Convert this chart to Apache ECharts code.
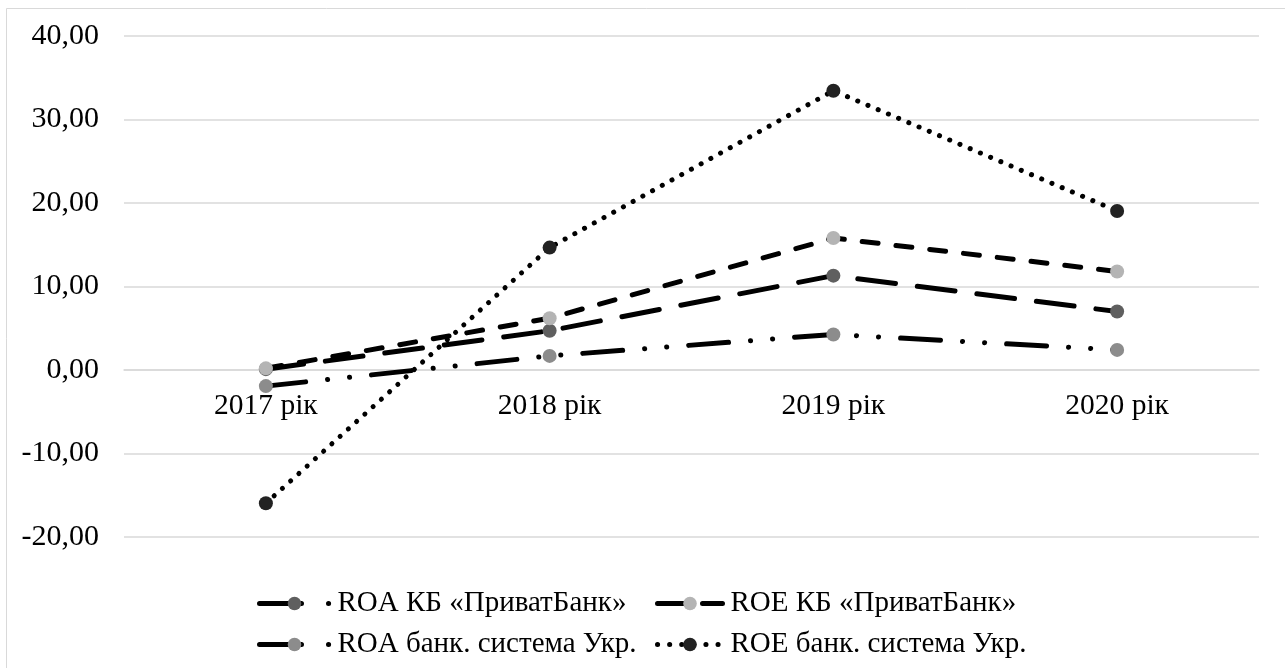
<!DOCTYPE html>
<html>
<head>
<meta charset="utf-8">
<script src="https://cdn.jsdelivr.net/npm/echarts@6/dist/echarts.min.js"></script>
<style>html,body{margin:0;padding:0;background:#fff}#c{width:1285px;height:668px}</style>
</head>
<body>
<div id="c"></div>
<script>
const categories = ['2017 рік', '2018 рік', '2019 рік', '2020 рік'];
const roaPrivat = [0.1, 4.7, 11.3, 7.0];
const roePrivat = [0.2, 6.2, 15.8, 11.8];
const roaSystem = [-1.93, 1.69, 4.26, 2.41];
const roeSystem = [-15.96, 14.66, 33.45, 19.05];
const seriesNames = ['ROA КБ «ПриватБанк»', 'ROE КБ «ПриватБанк»', 'ROA банк. система Укр.', 'ROE банк. система Укр.'];

const FONT = '"Liberation Serif", "Times New Roman", serif';
const chart = echarts.init(document.getElementById('c'));

function mk(name, data, markerColor, dash) {
  return {
    name: name, type: 'line', data: data,
    symbol: 'circle', symbolSize: 14,
    itemStyle: { color: markerColor },
    lineStyle: { color: '#000', width: 5, type: dash, cap: 'round' },
    emphasis: { disabled: true },
    animation: false
  };
}

function lg(name, left, top, w, dash) {
  return {
    data: [name], left: left, top: top, itemWidth: w, itemHeight: 17, itemGap: 0,
    padding: 0, selectedMode: false,
    lineStyle: { width: 5, type: dash, cap: 'round', color: '#000' },
    textStyle: { fontFamily: FONT, fontSize: 29, color: '#000', padding: [0, 0, 0, 3] }
  };
}

chart.setOption({
  backgroundColor: '#fff',
  animation: false,
  graphic: [{
    type: 'rect', shape: { x: 6.5, y: 8.5, width: 1300, height: 700 },
    style: { fill: 'none', stroke: '#d9d9d9', lineWidth: 1 }, silent: true
  }],
  grid: { left: 124, right: 26, top: 36, bottom: 131 },
  legend: [
    lg(seriesNames[0], 257, 589, 70, [42, 27, 0.1, 40]),
    lg(seriesNames[1], 655, 589, 65, [28, 17]),
    lg(seriesNames[2], 257, 630, 70, [42, 27, 0.1, 40]),
    lg(seriesNames[3], 655, 630, 65, [0.1, 12])
  ],
  xAxis: {
    type: 'category', data: categories, boundaryGap: true,
    offset: -167,
    axisLine: { onZero: false, lineStyle: { color: '#d9d9d9', width: 1.5 } },
    axisTick: { show: false },
    axisLabel: { fontFamily: FONT, fontSize: 29.5, color: '#000', margin: 21 }
  },
  yAxis: {
    type: 'value', min: -20, max: 40, interval: 10,
    axisLine: { show: false }, axisTick: { show: false },
    splitLine: { lineStyle: { color: '#d9d9d9', width: 1.5 } },
    axisLabel: {
      fontFamily: FONT, fontSize: 30, color: '#000', margin: 25,
      formatter: v => v.toFixed(2).replace('.', ',')
    }
  },
  series: [
    mk(seriesNames[0], roaPrivat, '#5f5f5f', [38, 22]),
    mk(seriesNames[1], roePrivat, '#b4b4b4', [16, 18]),
    mk(seriesNames[2], roaSystem, '#8c8c8c', [40, 22, 0.1, 22, 0.1, 22]),
    mk(seriesNames[3], roeSystem, '#222222', [0.1, 11])
  ]
});
</script>
</body>
</html>
